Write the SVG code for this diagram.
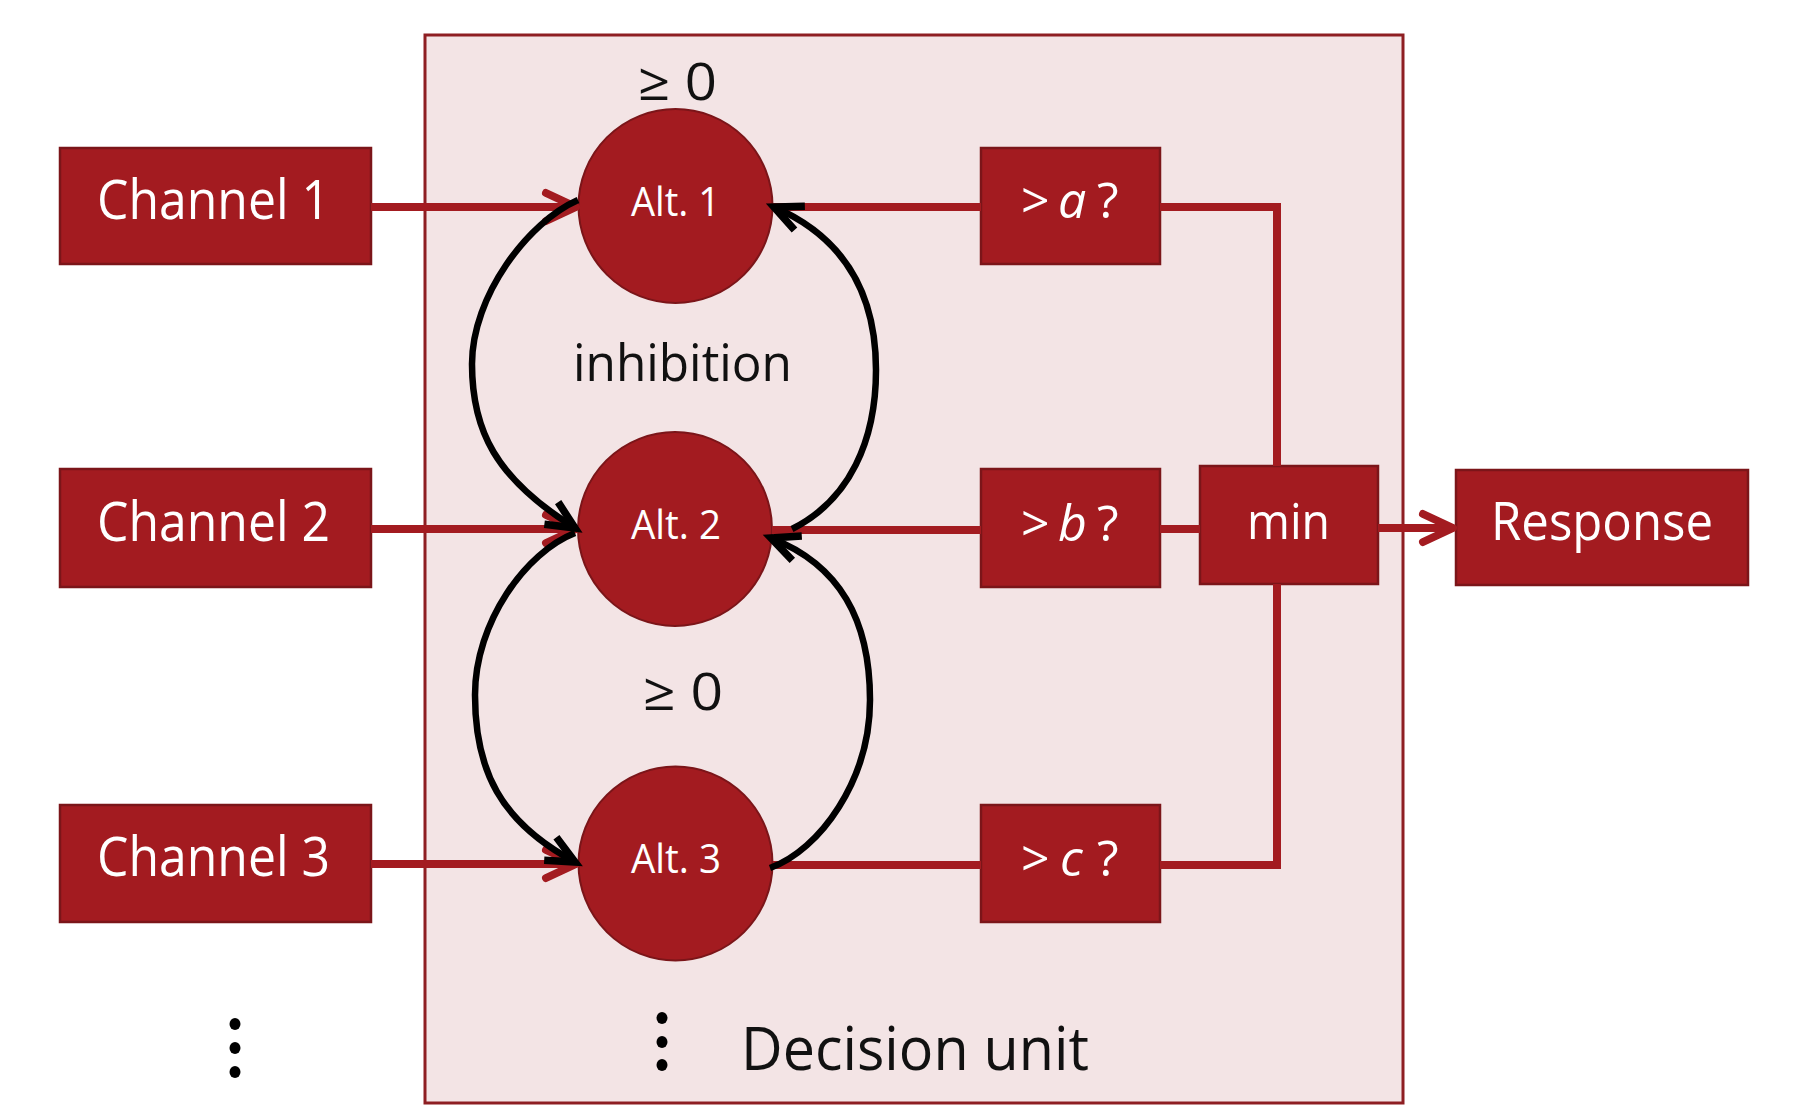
<svg xmlns="http://www.w3.org/2000/svg" width="1794" height="1106" viewBox="0 0 1794 1106">
<style>
.box{fill:#A31B20;stroke:#7B1519;stroke-width:2.5}
.alt{fill:#A31B20;stroke:#7B1519;stroke-width:2}
.wt{fill:#FFFFFF;font-family:"Open Sans","DejaVu Sans",sans-serif}
.bt{fill:#111111;font-family:"Open Sans","DejaVu Sans",sans-serif}
.red{fill:none;stroke:#A31B20;stroke-width:8}
.blk{fill:none;stroke:#000000;stroke-width:6.5}
</style>
<defs>
<marker id="arR" markerUnits="userSpaceOnUse" viewBox="0 0 36 34" refX="32" refY="17" markerWidth="36" markerHeight="34" orient="auto" overflow="visible">
<path d="M2,3 L32,17 L2,31" fill="none" stroke="#A31B20" stroke-width="8" stroke-linecap="round" stroke-linejoin="round"/>
</marker>
<marker id="arK" markerUnits="userSpaceOnUse" viewBox="0 0 36 34" refX="32" refY="17" markerWidth="36" markerHeight="34" orient="auto" overflow="visible">
<path d="M4,4 L32,17 L4,30" fill="none" stroke="#000000" stroke-width="7.5" stroke-linecap="butt" stroke-linejoin="miter"/>
</marker>
</defs>
<rect width="1794" height="1106" fill="#FFFFFF"/>
<g id="decision-unit">
<rect x="425" y="35" width="978" height="1068" fill="#F3E4E5" stroke="#8E1E22" stroke-width="3"/>
<text class="bt" x="741" y="1070" font-size="60" textLength="348" lengthAdjust="spacingAndGlyphs">Decision unit</text>
<ellipse cx="662" cy="1018" rx="5.5" ry="6" fill="#000"/>
<ellipse cx="662" cy="1042" rx="5.5" ry="6" fill="#000"/>
<ellipse cx="662" cy="1065" rx="5.5" ry="6" fill="#000"/>
</g>
<g id="more-channels">
<ellipse cx="235" cy="1024" rx="5.5" ry="6" fill="#000"/>
<ellipse cx="235" cy="1048" rx="5.5" ry="6" fill="#000"/>
<ellipse cx="235" cy="1072" rx="5.5" ry="6" fill="#000"/>
</g>
<g id="labels">
<text class="bt" x="638" y="100" font-size="52" textLength="79" lengthAdjust="spacingAndGlyphs">≥ 0</text>
<text class="bt" x="573" y="381" font-size="52" textLength="219" lengthAdjust="spacingAndGlyphs">inhibition</text>
<text class="bt" x="643" y="710" font-size="52" textLength="80" lengthAdjust="spacingAndGlyphs">≥ 0</text>
</g>
<g id="channel1"><rect class="box" x="60" y="148" width="311" height="116"/><text class="wt" x="97" y="219" font-size="55" textLength="233" lengthAdjust="spacingAndGlyphs">Channel 1</text></g>
<g id="channel2"><rect class="box" x="60" y="469" width="311" height="118"/><text class="wt" x="97" y="541" font-size="55" textLength="233" lengthAdjust="spacingAndGlyphs">Channel 2</text></g>
<g id="channel3"><rect class="box" x="60" y="805" width="311" height="117"/><text class="wt" x="97" y="876" font-size="55" textLength="233" lengthAdjust="spacingAndGlyphs">Channel 3</text></g>
<g id="alt1"><circle class="alt" cx="675.5" cy="206" r="97"/><text class="wt" x="631" y="216" font-size="40" textLength="89" lengthAdjust="spacingAndGlyphs">Alt. 1</text></g>
<g id="alt2"><circle class="alt" cx="675" cy="529" r="97"/><text class="wt" x="631" y="539" font-size="40" textLength="90" lengthAdjust="spacingAndGlyphs">Alt. 2</text></g>
<g id="alt3"><circle class="alt" cx="675.5" cy="863.5" r="97"/><text class="wt" x="631" y="873" font-size="40" textLength="90" lengthAdjust="spacingAndGlyphs">Alt. 3</text></g>
<g id="thr-a"><rect class="box" x="981" y="148" width="179" height="116"/><text class="wt" y="218" font-size="50"><tspan x="1021">&gt;</tspan><tspan x="1058" font-style="italic">a</tspan><tspan x="1097">?</tspan></text></g>
<g id="thr-b"><rect class="box" x="981" y="469" width="179" height="118"/><text class="wt" y="541" font-size="50"><tspan x="1021">&gt;</tspan><tspan x="1058" font-style="italic">b</tspan><tspan x="1097">?</tspan></text></g>
<g id="thr-c"><rect class="box" x="981" y="805" width="179" height="117"/><text class="wt" y="876" font-size="50"><tspan x="1021">&gt;</tspan><tspan x="1060" font-style="italic">c</tspan><tspan x="1097">?</tspan></text></g>
<g id="min"><rect class="box" x="1200" y="466" width="178" height="118"/><text class="wt" x="1247" y="539" font-size="50" textLength="83" lengthAdjust="spacingAndGlyphs">min</text></g>
<g id="response"><rect class="box" x="1456" y="470" width="292" height="115"/><text class="wt" x="1491" y="540" font-size="53" textLength="222" lengthAdjust="spacingAndGlyphs">Response</text></g>
<g id="connectors">
<line class="red" x1="371" y1="207" x2="576" y2="207" marker-end="url(#arR)"/>
<line class="red" x1="371" y1="529" x2="576" y2="529" marker-end="url(#arR)"/>
<line class="red" x1="371" y1="864" x2="576" y2="864" marker-end="url(#arR)"/>
<line class="red" x1="773" y1="207" x2="981" y2="207"/>
<line class="red" x1="772" y1="530" x2="981" y2="530"/>
<line class="red" x1="773" y1="865" x2="981" y2="865"/>
<polyline class="red" points="1160,207 1277,207 1277,466"/>
<line class="red" x1="1160" y1="529" x2="1200" y2="529"/>
<polyline class="red" points="1160,865 1277,865 1277,584"/>
<line class="red" x1="1378" y1="528" x2="1453" y2="528" marker-end="url(#arR)"/>
<path class="blk" d="M578,200 C528,222 472,296 472,364 C472,430 495,478 575,528" marker-end="url(#arK)"/>
<path class="blk" d="M575,533 C526,552 475,622 475,695 C475,770 500,822 575,862" marker-end="url(#arK)"/>
<path class="blk" d="M792,529 C850,500 876,440 876,370 C876,300 850,240 774,207" marker-end="url(#arK)"/>
<path class="blk" d="M770,868 C820,850 870,780 870,700 C870,620 840,565 771,538" marker-end="url(#arK)"/>
</g>
</svg>
